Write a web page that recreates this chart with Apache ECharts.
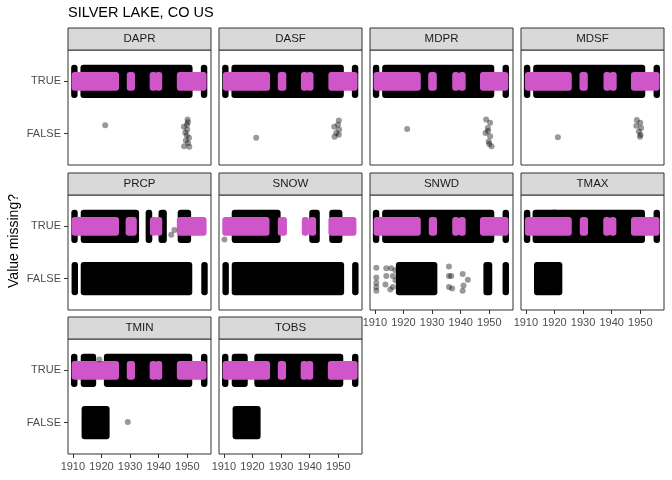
<!DOCTYPE html>
<html><head><meta charset="utf-8">
<script src="https://cdn.jsdelivr.net/npm/echarts@6/dist/echarts.min.js"></script>
<style>html,body{margin:0;padding:0;background:#fff}#c{width:672px;height:480px}</style>
</head><body><div id="c"></div>
<script>
// ---------------- DATA ----------------
const facets = ['DAPR','DASF','MDPR','MDSF','PRCP','SNOW','SNWD','TMAX','TMIN','TOBS'];
const yLevels = ['FALSE','TRUE'];            // plotted at 1 and 2
const xTicks = [1910,1920,1930,1940,1950];
const chartTitle = 'SILVER LAKE, CO US';
const yTitle = 'Value missing?';

// dense runs of daily points: [startYear, endYear, level]  (level 1 = FALSE, 2 = TRUE)
const DAPR_black = [[1910.45,1910.6,2],[1913.7,1950.8,2],[1955.8,1955.95,2]];
const DASF_black = [[1910.45,1910.6,2],[1913.7,1950.9,2],[1955.8,1955.95,2]];
const MDPR_black = [[1910.35,1910.5,2],[1913.6,1950.7,2],[1955.7,1955.85,2]];
const MDSF_black = [[1910.35,1910.5,2],[1913.6,1950.7,2],[1955.7,1955.85,2]];
const PRCP_black = [[1910.5,1910.65,2],[1913.8,1932.1,2],[1936.5,1936.7,2],[1941.0,1941.8,2],[1947.7,1950.3,2],
                    [1910.6,1910.75,1],[1913.8,1950.7,1],[1955.95,1956.1,1]];
const SNOW_black = [[1913.8,1928.8,2],[1940.9,1942.5,2],[1947.9,1950.4,2],
                    [1910.55,1910.7,1],[1913.8,1951.0,1],[1955.9,1956.05,1]];
const SNWD_black = [[1910.35,1910.5,2],[1913.6,1950.7,2],[1955.7,1955.85,2],
                    [1918.4,1930.8,1],[1949.0,1950.0,1],[1955.7,1955.85,1]];
const TMAX_black = [[1910.35,1910.5,2],[1913.4,1950.6,2],[1955.7,1955.85,2],[1913.9,1921.7,1]];
const TMIN_black = [[1910.4,1910.55,2],[1913.8,1917.1,2],[1921.9,1950.7,2],[1955.85,1956.0,2],[1914.1,1921.8,1]];
const TOBS_black = [[1910.4,1910.55,2],[1913.8,1917.3,2],[1921.7,1950.7,2],[1955.85,1956.0,2],[1914.1,1921.8,1]];

// magenta runs (all on TRUE)
const DAPR_pink = [[1910.6,1925.1,2],[1929.9,1930.7,2],[1937.9,1938.3,2],[1939.8,1940.2,2],[1947.4,1955.7,2]];
const DASF_pink = [[1910.7,1925.1,2],[1929.9,1930.8,2],[1938.0,1938.4,2],[1939.9,1940.3,2],[1947.6,1955.7,2]];
const MDPR_pink = [[1910.6,1925.0,2],[1929.7,1930.6,2],[1938.1,1938.5,2],[1940.3,1940.7,2],[1947.8,1955.6,2]];
const MDSF_pink = [[1910.7,1925.0,2],[1929.8,1930.6,2],[1938.2,1938.6,2],[1940.3,1940.7,2],[1947.8,1955.7,2]];
const PRCP_pink = [[1910.6,1925.1,2],[1929.5,1931.3,2],[1938.0,1938.4,2],[1939.8,1940.2,2],[1947.4,1955.7,2]];
const SNOW_pink = [[1910.5,1924.9,2],[1929.9,1931.0,2],[1938.3,1938.7,2],[1940.8,1941.2,2],[1947.6,1955.3,2]];
const SNWD_pink = [[1910.6,1925.0,2],[1929.9,1930.7,2],[1938.1,1938.5,2],[1940.3,1940.7,2],[1947.8,1955.7,2]];
const TMAX_pink = [[1910.7,1925.0,2],[1929.9,1930.7,2],[1938.1,1938.5,2],[1940.2,1940.6,2],[1947.8,1955.7,2]];
const TMIN_pink = [[1910.6,1925.1,2],[1929.9,1930.7,2],[1937.9,1938.3,2],[1939.8,1940.2,2],[1947.4,1955.7,2]];
const TOBS_pink = [[1910.6,1925.1,2],[1929.9,1930.7,2],[1937.9,1938.3,2],[1939.8,1940.2,2],[1947.4,1955.7,2]];

// isolated points: [year, level, jitter]
const DAPR_pts = [[1921.3,1,0.16],[1950.1,1,0.27],[1950.2,1,0.22],[1949.9,1,0.17],[1948.8,1,0.13],[1950.0,1,0.08],
                  [1949.3,1,0.02],[1949.8,1,-0.03],[1950.6,1,-0.08],[1949.5,1,-0.13],[1950.3,1,-0.18],[1948.9,1,-0.24],[1950.7,1,-0.25]];
const DASF_pts = [[1921.3,1,-0.08],[1950.2,1,0.25],[1949.9,1,0.17],[1948.6,1,0.13],[1950.3,1,0.08],[1949.3,1,0.01],
                  [1950.2,1,-0.02],[1948.7,1,-0.06]];
const MDPR_pts = [[1921.3,1,0.09],[1948.9,1,0.27],[1950.3,1,0.21],[1949.5,1,0.11],[1948.7,1,0.01],[1950.3,1,-0.05],
                  [1949.8,1,-0.15],[1950.8,1,-0.24],[1949.6,1,0.05],[1950.0,1,-0.2]];
const MDSF_pts = [[1921.2,1,-0.07],[1948.8,1,0.26],[1950.0,1,0.21],[1948.6,1,0.15],[1950.3,1,0.11],[1949.5,1,0.04],
                  [1950.1,1,-0.02],[1949.9,1,-0.06]];
const PRCP_pts = [[1936.8,2,-0.23],[1944.4,2,-0.16],[1945.5,2,-0.07]];
const SNOW_pts = [[1910.2,2,-0.25]];
const SNWD_pts = [[1910.5,1,0.21],[1910.5,1,0.02],[1910.5,1,-0.08],[1910.5,1,-0.16],[1910.5,1,-0.23],
                  [1914.0,1,0.2],[1915.7,1,0.2],[1914.0,1,0.05],[1916.3,1,0.05],[1913.7,1,-0.11],[1916.3,1,-0.16],
                  [1915.4,1,-0.21],[1917.2,1,0.16],[1917.2,1,-0.03],
                  [1935.9,1,0.23],[1935.9,1,0.05],[1936.7,1,0.05],[1935.9,1,-0.16],[1937.0,1,-0.19],
                  [1940.7,1,0.09],[1942.5,1,-0.02],[1941.0,1,-0.13],[1940.7,1,-0.23]];
const TMAX_pts = [[1920.0,2,0.27]];
const TMIN_pts = [[1919.3,2,0.21],[1929.2,1,0.01]];
const TOBS_pts = [];

const blackRuns = [DAPR_black,DASF_black,MDPR_black,MDSF_black,PRCP_black,SNOW_black,SNWD_black,TMAX_black,TMIN_black,TOBS_black];
const pinkRuns  = [DAPR_pink,DASF_pink,MDPR_pink,MDSF_pink,PRCP_pink,SNOW_pink,SNWD_pink,TMAX_pink,TMIN_pink,TOBS_pink];
const loosePts  = [DAPR_pts,DASF_pts,MDPR_pts,MDSF_pts,PRCP_pts,SNOW_pts,SNWD_pts,TMAX_pts,TMIN_pts,TOBS_pts];

// ---------------- LAYOUT / STYLE ----------------
const COL_LEFT = [68, 219, 370, 521];
const ROW_TOP = [50, 195, 339];
const PW = 143, PH = 115, STRIP = 22;
const X_MIN = 1908.3, X_MAX = 1958.3, Y_MIN = 0.4, Y_MAX = 2.6;
const BLACK_H = 0.26, PINK_H = 0.12, R = 3;
const FONT = "'Liberation Sans', Arial, sans-serif";
const PINK = '#CF56C9';
const bottomPanels = [6,7,8,9];

const chart = echarts.init(document.getElementById('c'), null, {renderer:'canvas'});

function bandRender(h, fill) {
  return function(params, api) {
    const s = api.value(0), e = api.value(1), lv = api.value(2);
    const p1 = api.coord([s, lv + h]);
    const p2 = api.coord([e, lv - h]);
    return {type:'rect',
      shape:{x:p1[0]-R, y:p1[1]-R, width:p2[0]-p1[0]+2*R, height:p2[1]-p1[1]+2*R, r:R},
      style:{fill:fill}};
  };
}

const grids = [], xAxes = [], yAxes = [], series = [], graphics = [];
facets.forEach((name, i) => {
  const row = Math.floor(i/4), col = i % 4;
  const left = COL_LEFT[col], top = ROW_TOP[row];
  grids.push({left:left, top:top, width:PW, height:PH, show:true, borderColor:'#333333', borderWidth:1, backgroundColor:'#fff', containLabel:false});
  const showX = bottomPanels.includes(i);
  xAxes.push({type:'value', gridIndex:i, min:X_MIN, max:X_MAX,
    axisLine:{show:false}, splitLine:{show:false},
    axisTick:{show:showX, customValues:xTicks, length:4, lineStyle:{color:'#333'}},
    axisLabel:{show:showX, customValues:xTicks, color:'#4D4D4D', fontSize:11, fontFamily:FONT, margin:7,
      formatter:v => String(Math.round(v))}});
  const showY = col === 0;
  yAxes.push({type:'value', gridIndex:i, min:Y_MIN, max:Y_MAX,
    axisLine:{show:false}, splitLine:{show:false},
    axisTick:{show:showY, customValues:[1,2], length:4, lineStyle:{color:'#333'}},
    axisLabel:{show:showY, customValues:[1,2], color:'#4D4D4D', fontSize:11, fontFamily:FONT, margin:7,
      formatter:v => yLevels[Math.round(v)-1]}});
  series.push({type:'custom', xAxisIndex:i, yAxisIndex:i, renderItem:bandRender(BLACK_H,'#000'),
    encode:{x:[0,1], y:2}, data:blackRuns[i], silent:true, clip:true});
  series.push({type:'scatter', xAxisIndex:i, yAxisIndex:i, symbolSize:6,
    itemStyle:{color:'rgba(0,0,0,0.5)'}, data:loosePts[i].map(p => [p[0], p[1]+p[2]]), silent:true});
  series.push({type:'custom', xAxisIndex:i, yAxisIndex:i, renderItem:bandRender(PINK_H,PINK),
    encode:{x:[0,1], y:2}, data:pinkRuns[i], silent:true, clip:true});
  graphics.push({type:'rect', shape:{x:left, y:top-STRIP, width:PW, height:STRIP},
    style:{fill:'#D9D9D9', stroke:'#333333', lineWidth:1}, silent:true});
  graphics.push({type:'text', x:left+PW/2, y:top-STRIP/2,
    style:{text:name, fill:'#1A1A1A', font:'11.5px '+FONT, align:'center', verticalAlign:'middle'}, silent:true});
});
graphics.push({type:'text', x:68, y:13, style:{text:chartTitle, fill:'#000', font:'14.5px '+FONT, align:'left', verticalAlign:'middle'}});
graphics.push({type:'text', x:14, y:241, rotation:Math.PI/2,
  style:{text:yTitle, fill:'#000', font:'14px '+FONT, align:'center', verticalAlign:'middle'}});

chart.setOption({animation:false, backgroundColor:'#fff', grid:grids, xAxis:xAxes, yAxis:yAxes, series:series, graphic:graphics});
</script></body></html>
